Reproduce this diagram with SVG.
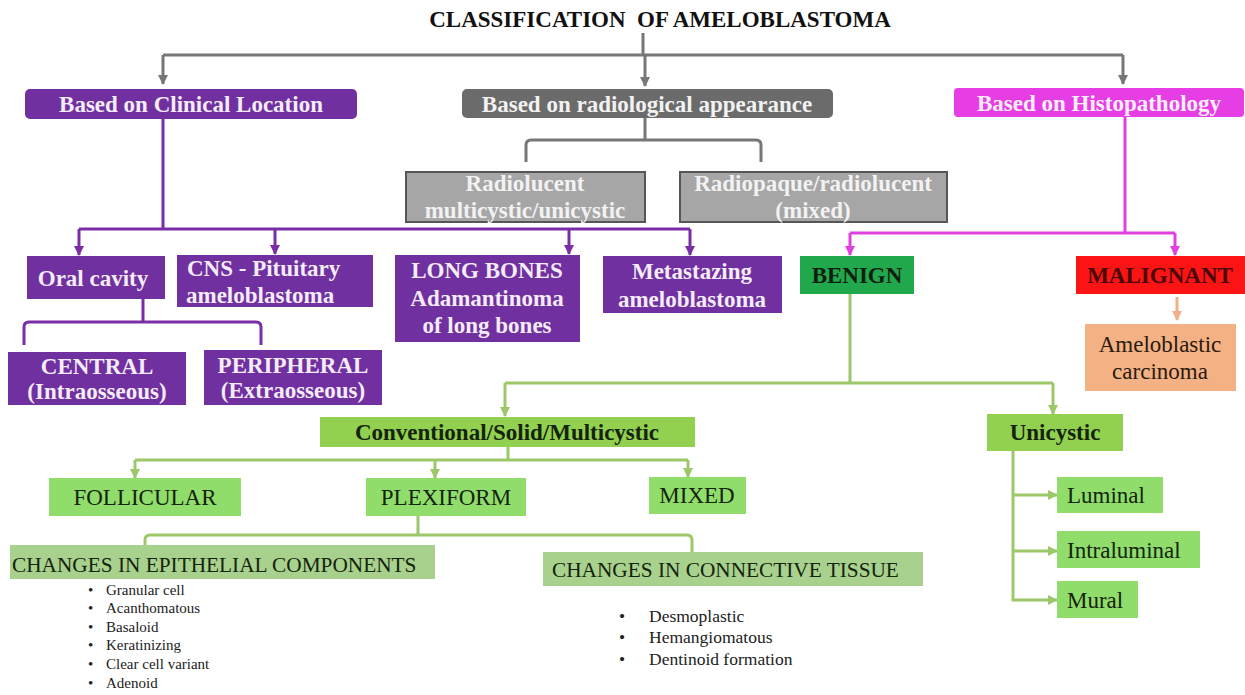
<svg xmlns="http://www.w3.org/2000/svg" width="1245" height="695" viewBox="0 0 1245 695">
<style>
text{font-family:"Liberation Serif","Times New Roman",serif;}
.b{font-weight:bold;font-size:23px;}
.r{font-size:23px;}
.c{text-anchor:middle;}
.wt{fill:#f4ecf8;}
.gt{fill:#f2f2f2;}
.dt{fill:#14240c;}
.pur{fill:#7030a0;}
.lg{fill:#92d050;}
.bg{fill:#90dd6c;}
.mg{fill:#a9d18e;}
.rad{fill:#a6a6a6;stroke:#565656;stroke-width:2;}
.lg2{fill:#222;}
.cg{fill:none;stroke:#777;stroke-width:3;}
.cp{fill:none;stroke:#7a2ea6;stroke-width:3;}
.cm{fill:none;stroke:#e040e0;stroke-width:3;}
.cgr{fill:none;stroke:#9cc86a;stroke-width:3;}
.cs{fill:none;stroke:#f0b08a;stroke-width:3;}
</style>
<defs>
<marker id="ag" viewBox="0 0 10 10" refX="9" refY="5" markerWidth="10" markerHeight="10" markerUnits="userSpaceOnUse" orient="auto"><path d="M0,0 L10,5 L0,10 z" fill="#777"/></marker>
<marker id="ap" viewBox="0 0 10 10" refX="9" refY="5" markerWidth="10" markerHeight="10" markerUnits="userSpaceOnUse" orient="auto"><path d="M0,0 L10,5 L0,10 z" fill="#7a2ea6"/></marker>
<marker id="am" viewBox="0 0 10 10" refX="9" refY="5" markerWidth="10" markerHeight="10" markerUnits="userSpaceOnUse" orient="auto"><path d="M0,0 L10,5 L0,10 z" fill="#e040e0"/></marker>
<marker id="agr" viewBox="0 0 10 10" refX="9" refY="5" markerWidth="10" markerHeight="10" markerUnits="userSpaceOnUse" orient="auto"><path d="M0,0 L10,5 L0,10 z" fill="#9cc86a"/></marker>
<marker id="as" viewBox="0 0 10 10" refX="9" refY="5" markerWidth="10" markerHeight="10" markerUnits="userSpaceOnUse" orient="auto"><path d="M0,0 L10,5 L0,10 z" fill="#f0b08a"/></marker>
</defs>
<rect width="1245" height="695" fill="#ffffff"/>

<g id="title"><text x="660" y="27" class="b c" fill="#111" font-size="22" xml:space="preserve">CLASSIFICATION  OF AMELOBLASTOMA</text></g>

<g id="connectors">
<path class="cg" d="M643,33 V55 M163,55 H1123"/>
<path class="cg" d="M163,55 V84" marker-end="url(#ag)"/>
<path class="cg" d="M645,55 V86" marker-end="url(#ag)"/>
<path class="cg" d="M1123,55 V84" marker-end="url(#ag)"/>
<path class="cg" d="M645,118 V140 M526,162 V145 Q526,140 531,140 H756 Q761,140 761,145 V162"/>

<path class="cp" d="M163,119 V229 M79,229 H690"/>
<path class="cp" d="M79,229 V255" marker-end="url(#ap)"/>
<path class="cp" d="M275,229 V254" marker-end="url(#ap)"/>
<path class="cp" d="M569,229 V254" marker-end="url(#ap)"/>
<path class="cp" d="M690,229 V255" marker-end="url(#ap)"/>
<path class="cp" d="M143,299 V322 M24,345 V327 Q24,322 29,322 H256 Q261,322 261,327 V345"/>

<path class="cm" d="M1125,116 V233 M850,233 H1175"/>
<path class="cm" d="M850,233 V255" marker-end="url(#am)"/>
<path class="cm" d="M1175,233 V255" marker-end="url(#am)"/>

<path class="cs" d="M1177,297 V320" marker-end="url(#as)"/>

<path class="cgr" d="M850,294 V383 M505,383 H1053"/>
<path class="cgr" d="M505,383 V416" marker-end="url(#agr)"/>
<path class="cgr" d="M1053,383 V414" marker-end="url(#agr)"/>
<path class="cgr" d="M508,447 V460 M135,460 H688"/>
<path class="cgr" d="M135,460 V478" marker-end="url(#agr)"/>
<path class="cgr" d="M435,460 V478" marker-end="url(#agr)"/>
<path class="cgr" d="M688,460 V477" marker-end="url(#agr)"/>
<path class="cgr" d="M418,516 V535 M145,545 V540 Q145,535 150,535 H687 Q692,535 692,540 V552"/>
<path class="cgr" d="M1013,451 V600 H1057" marker-end="url(#agr)"/>
<path class="cgr" d="M1013,495 H1057" marker-end="url(#agr)"/>
<path class="cgr" d="M1013,551 H1057" marker-end="url(#agr)"/>
</g>

<g id="n-clinical"><rect x="25" y="89" width="332" height="30" rx="5" class="pur"/><text x="191" y="112" class="b c wt">Based on Clinical Location</text></g>
<g id="n-radio"><rect x="462" y="89" width="371" height="29" rx="5" fill="#6b6b6b"/><text x="647" y="112" class="b c gt">Based on radiological appearance</text></g>
<g id="n-histo"><rect x="954" y="88" width="290" height="29" rx="4" fill="#e63ee4"/><text x="1099" y="111" class="b c" fill="#fbeefb">Based on Histopathology</text></g>

<g id="n-radiolucent"><rect x="406" y="172" width="239" height="50" class="rad"/><text x="525" y="191" class="b c gt">Radiolucent</text><text x="525" y="218" class="b c gt">multicystic/unicystic</text></g>
<g id="n-radiopaque"><rect x="680" y="172" width="267" height="50" class="rad"/><text x="813" y="191" class="b c gt">Radiopaque/radiolucent</text><text x="813" y="218" class="b c gt">(mixed)</text></g>

<g id="n-oral"><rect x="27" y="256" width="138" height="43" class="pur"/><text x="93" y="286" class="b c wt">Oral cavity</text></g>
<g id="n-cns"><rect x="177" y="255" width="196" height="52" class="pur"/><text x="187" y="276" class="b wt">CNS - Pituitary</text><text x="186" y="303" class="b wt">ameloblastoma</text></g>
<g id="n-long"><rect x="395" y="255" width="185" height="87" class="pur"/><text x="487" y="278" class="b c wt">LONG BONES</text><text x="487" y="306" class="b c wt">Adamantinoma</text><text x="487" y="333" class="b c wt">of long bones</text></g>
<g id="n-meta"><rect x="603" y="256" width="179" height="57" class="pur"/><text x="692" y="279" class="b c wt">Metastazing</text><text x="692" y="307" class="b c wt">ameloblastoma</text></g>
<g id="n-central"><rect x="8" y="352" width="178" height="53" class="pur"/><text x="97" y="374" class="b c wt">CENTRAL</text><text x="97" y="399" class="b c wt">(Intraosseous)</text></g>
<g id="n-peripheral"><rect x="204" y="350" width="178" height="55" class="pur"/><text x="293" y="373" class="b c wt">PERIPHERAL</text><text x="293" y="398" class="b c wt">(Extraosseous)</text></g>

<g id="n-benign"><rect x="800" y="256" width="114" height="38" fill="#22a84c"/><text x="857" y="283" class="b c" fill="#0f1f0f">BENIGN</text></g>
<g id="n-malignant"><rect x="1076" y="256" width="169" height="38" fill="#fa1414"/><text x="1160" y="283" class="b c" fill="#4a0808">MALIGNANT</text></g>
<g id="n-carcinoma"><rect x="1085" y="324" width="151" height="67" fill="#f4b183"/><text x="1160" y="352" class="r c" fill="#2a1a10">Ameloblastic</text><text x="1160" y="379" class="r c" fill="#2a1a10">carcinoma</text></g>

<g id="n-conventional"><rect x="320" y="417" width="375" height="30" class="lg"/><text x="507" y="440" class="b c dt">Conventional/Solid/Multicystic</text></g>
<g id="n-unicystic"><rect x="987" y="414" width="136" height="37" class="lg"/><text x="1055" y="440" class="b c dt">Unicystic</text></g>

<g id="n-follicular"><rect x="49" y="478" width="192" height="38" class="bg"/><text x="145" y="505" class="r c dt">FOLLICULAR</text></g>
<g id="n-plexiform"><rect x="366" y="478" width="160" height="38" class="bg"/><text x="446" y="505" class="r c dt">PLEXIFORM</text></g>
<g id="n-mixed"><rect x="649" y="477" width="97" height="37" class="bg"/><text x="697" y="503" class="r c dt">MIXED</text></g>

<g id="n-luminal"><rect x="1057" y="477" width="106" height="36" class="bg"/><text x="1067" y="503" class="r dt">Luminal</text></g>
<g id="n-intraluminal"><rect x="1057" y="531" width="143" height="37" class="bg"/><text x="1067" y="558" class="r dt">Intraluminal</text></g>
<g id="n-mural"><rect x="1057" y="581" width="81" height="37" class="bg"/><text x="1067" y="608" class="r dt">Mural</text></g>

<g id="n-epithelial"><rect x="10" y="545" width="425" height="34" class="mg"/><text x="12" y="572" font-size="21.3" class="dt">CHANGES IN EPITHELIAL COMPONENTS</text></g>
<g id="n-connective"><rect x="543" y="552" width="380" height="34" class="mg"/><text x="552" y="577" font-size="21.3" class="dt">CHANGES IN CONNECTIVE TISSUE</text></g>

<g id="list-epithelial" font-size="15" fill="#222">
<text x="88" y="595">•</text><text x="106" y="595">Granular cell</text>
<text x="88" y="613">•</text><text x="106" y="613">Acanthomatous</text>
<text x="88" y="632">•</text><text x="106" y="632">Basaloid</text>
<text x="88" y="650">•</text><text x="106" y="650">Keratinizing</text>
<text x="88" y="669">•</text><text x="106" y="669">Clear cell variant</text>
<text x="88" y="688">•</text><text x="106" y="688">Adenoid</text>
</g>
<g id="list-connective" font-size="17.5" fill="#222">
<text x="619" y="622">•</text><text x="649" y="622">Desmoplastic</text>
<text x="619" y="643">•</text><text x="649" y="643">Hemangiomatous</text>
<text x="619" y="665">•</text><text x="649" y="665">Dentinoid formation</text>
</g>
</svg>
